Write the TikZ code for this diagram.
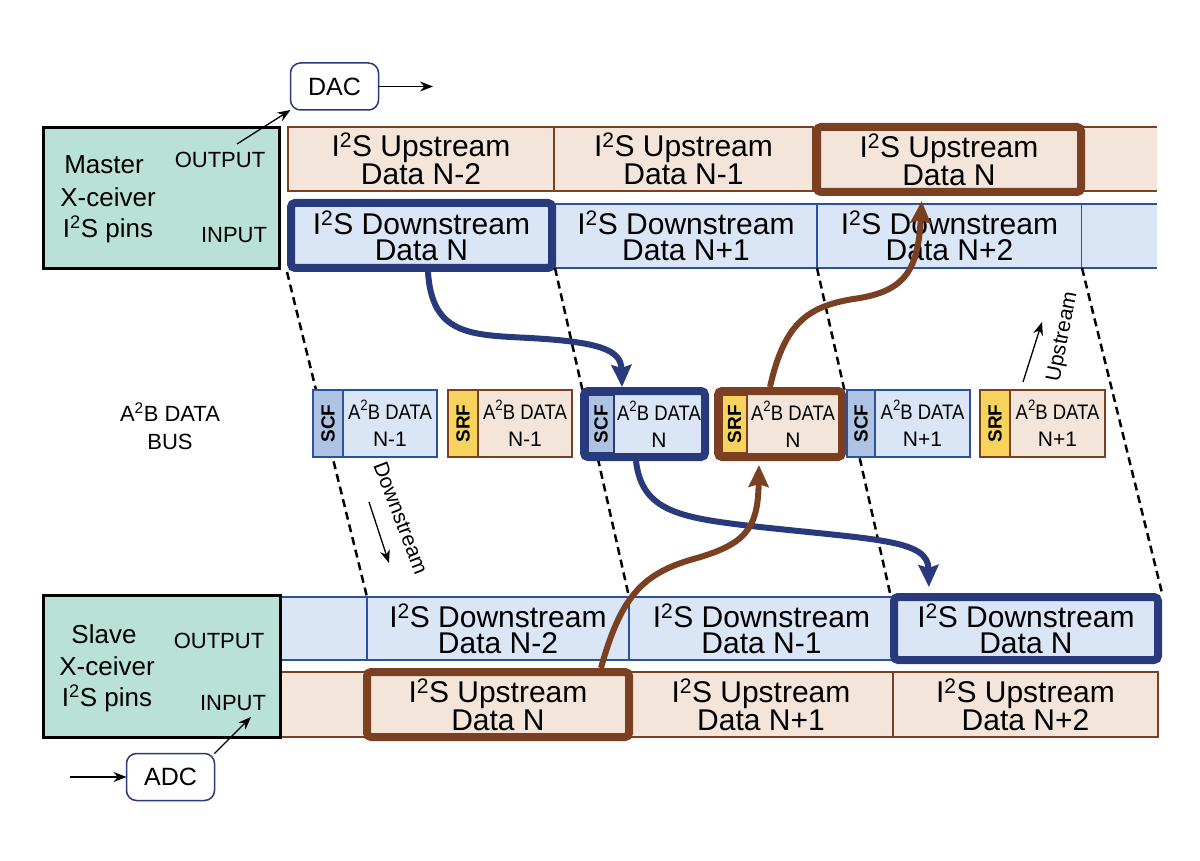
\documentclass[tikz,border=0pt]{standalone}
\usepackage{fontspec}
\setmainfont{Liberation Sans}
\usetikzlibrary{arrows.meta}
\definecolor{mastfill}{HTML}{B9E1D7}
\definecolor{upfill}{HTML}{F3E5D9}
\definecolor{brn}{HTML}{7B3F22}
\definecolor{dnfill}{HTML}{DAE5F5}
\definecolor{dnline}{HTML}{2A4FA3}
\definecolor{navy}{HTML}{283A7B}
\definecolor{scffill}{HTML}{AEC2E2}
\definecolor{srffill}{HTML}{F5D35C}
\newcommand\twosup{\textsuperscript{2}}
\newcommand\bustwo{\raisebox{0.42em}{\fontsize{15}{15}\selectfont 2}}
\newcommand\busline[1]{\scalebox{0.88}[1]{#1}}
\newcommand\cellfont{\fontsize{30}{26}\selectfont}
\newcommand\busfont{\fontsize{21}{27}\selectfont}
\newcommand\tabfont{\fontsize{19}{19}\selectfont\bfseries}
\newcommand\pinfont{\fontsize{22}{22}\selectfont}
\newcommand\namefont{\fontsize{26}{26}\selectfont}
\newcommand\dacfont{\fontsize{25}{25}\selectfont}
\newcommand\dirfont{\fontsize{21}{21}\selectfont}
\newcommand\lblfont{\fontsize{22}{28}\selectfont}
\begin{document}
\begin{tikzpicture}[x=1pt,y=-1pt,
  cell/.style={inner sep=0pt, outer sep=0pt, align=center, font=\cellfont, anchor=north west},
  upc/.style={cell, draw=brn, fill=upfill, line width=2pt},
  dnc/.style={cell, draw=dnline, fill=dnfill, line width=2pt},
  uphl/.style={cell, anchor=center, draw=brn, fill=upfill, line width=8pt, rounded corners=4pt, outer sep=4pt},
  dnhl/.style={cell, anchor=center, draw=navy, fill=dnfill, line width=8pt, rounded corners=4pt, outer sep=4pt},
  scftab/.style={inner sep=0pt, outer sep=0pt, anchor=north west, draw=dnline, fill=scffill, line width=2pt},
  srftab/.style={inner sep=0pt, outer sep=0pt, anchor=north west, draw=brn, fill=srffill, line width=2pt},
  scfdat/.style={inner sep=0pt, outer sep=0pt, anchor=north west, draw=dnline, fill=dnfill, line width=2pt, align=center, font=\busfont},
  srfdat/.style={inner sep=0pt, outer sep=0pt, anchor=north west, draw=brn, fill=upfill, line width=2pt, align=center, font=\busfont},
  bustxt/.style={inner sep=0pt, align=center, font=\busfont},
  tabtxt/.style={rotate=90, inner sep=0pt, font=\tabfont},
  bigarr/.style={line width=6pt, -{Stealth[length=22pt,width=20pt,inset=3pt]}},
  smallarr/.style={line width=1.3pt, black, -{Stealth[length=13pt,width=10pt]}},
  dsh/.style={black, line width=2.5pt, dash pattern=on 8pt off 5pt},
  chip/.style={draw=black, line width=3pt, fill=mastfill, inner sep=0pt, outer sep=0pt, anchor=north west},
  conv/.style={draw=navy, line width=1.5pt, rounded corners=10pt, fill=white, font=\dacfont, inner sep=0pt, outer sep=0pt, minimum width=88, minimum height=47}
]
\useasboundingbox (0,0) rectangle (1200,861);

% ---------- top upstream row ----------
\node[upc, minimum width=266, minimum height=64] (u1) at (288,127) {I\twosup S Upstream\\Data N-2};
\node[upc, minimum width=259, minimum height=64] (u2) at (554,127) {I\twosup S Upstream\\Data N-1};
\fill[upfill] (1081,127) rectangle (1157,191);
\draw[brn, line width=2pt] (1081,127) -- (1157,127) (1081,191) -- (1157,191);
\node[uphl, minimum width=264, minimum height=65] (u3) at (949,159.5) {I\twosup S Upstream\\Data N};

% ---------- top downstream row ----------
\node[dnc, minimum width=262, minimum height=64] (d2) at (555,204) {I\twosup S Downstream\\Data N+1};
\node[dnc, minimum width=265, minimum height=64] (d3) at (817,204) {I\twosup S Downstream\\Data N+2};
\fill[dnfill] (1082,204) rectangle (1157,268);
\draw[dnline, line width=2pt] (1082,204) -- (1157,204) (1082,268) -- (1157,268);
\node[dnhl, minimum width=261, minimum height=65] (d1) at (421.5,235.5) {I\twosup S Downstream\\Data N};

% ---------- bottom downstream row ----------
\node[dnc, minimum width=87, minimum height=63] (b1) at (280,597) {};
\node[dnc, minimum width=262, minimum height=63] (b2) at (367,597) {I\twosup S Downstream\\Data N-2};
\node[dnc, minimum width=265, minimum height=63] (b3) at (629,597) {I\twosup S Downstream\\Data N-1};
\node[dnhl, minimum width=264, minimum height=63] (bN) at (1026,628.5) {I\twosup S Downstream\\Data N};

% ---------- bottom upstream row ----------
\node[upc, minimum width=87, minimum height=65] (c1) at (280,672) {};
\node[upc, minimum width=264, minimum height=65] (c3) at (629,672) {I\twosup S Upstream\\Data N+1};
\node[upc, minimum width=265, minimum height=65] (c4) at (893,672) {I\twosup S Upstream\\Data N+2};
\node[uphl, minimum width=262, minimum height=65] (c2) at (498,704.5) {I\twosup S Upstream\\Data N};

% ---------- master / slave ----------
\node[chip, minimum width=236, minimum height=141] (master) at (43,128) {};
\node[font=\namefont, inner sep=0pt] (mt1) at (104,165) {Master};
\node[font=\namefont, inner sep=0pt] (mt2) at (108,197) {X-ceiver};
\node[font=\namefont, inner sep=0pt] (mt3) at (108,229) {I\twosup S pins};
\node[font=\pinfont, inner sep=0pt] (mout) at (220,160) {OUTPUT};
\node[font=\pinfont, inner sep=0pt] (min) at (234,235) {INPUT};

\node[chip, minimum width=237, minimum height=142] (slave) at (43,595) {};
\node[font=\namefont, inner sep=0pt] (st1) at (104,634) {Slave};
\node[font=\namefont, inner sep=0pt] (st2) at (107,666) {X-ceiver};
\node[font=\namefont, inner sep=0pt] (st3) at (107,698) {I\twosup S pins};
\node[font=\pinfont, inner sep=0pt] (sout) at (219,641) {OUTPUT};
\node[font=\pinfont, inner sep=0pt] (sin) at (233,703) {INPUT};

% ---------- DAC / ADC ----------
\node[conv] (dac) at (334.5,86.5) {DAC};
\coordinate (dacout) at (433,86.5);
\coordinate (mo) at (237,144);
\draw[smallarr] (dac.east) -- (dacout);
\draw[smallarr] (mo) -- (dac.south west);

\node[conv] (adc) at (170.5,777) {ADC};
\coordinate (adcin) at (70,777);
\coordinate (si) at (251,717);
\draw[smallarr] (adcin) -- (adc.west);
\draw[smallarr] (adc.north east) -- (si);

% ---------- dashed lines ----------
\coordinate (t4) at (1082,268);
\draw[dsh] (d1.south west) -- (b2.north west);
\draw[dsh] (d2.south west) -- (b3.north west);
\draw[dsh] (d3.south west) -- (bN.north west);
\draw[dsh] (t4) -- (bN.north east);

% ---------- bus frames ----------
\node[scftab, minimum width=30, minimum height=67] (s1t) at (313,390) {};
\node[scfdat, minimum width=94, minimum height=67] (s1d) at (343,390) {\busline{A\bustwo B DATA}\\N-1};
\node[tabtxt] (s1l) at (s1t.center) {SCF};

\node[srftab, minimum width=30, minimum height=67] (r1t) at (448,390) {};
\node[srfdat, minimum width=94, minimum height=67] (r1d) at (478,390) {\busline{A\bustwo B DATA}\\N-1};
\node[tabtxt] (r1l) at (r1t.center) {SRF};

\node[dnhl, minimum width=121, minimum height=66] (hlscf) at (644.5,424) {};
\node[scftab, line width=1.5pt, draw=navy, minimum width=26, minimum height=58] (s2t) at (588,395) {};
\node[tabtxt] (s2l) at (s2t.center) {SCF};
\node[bustxt] (s2d) at (659,424) {\busline{A\bustwo B DATA}\\N};

\node[uphl, minimum width=124, minimum height=66] (hlsrf) at (780,424) {};
\node[srftab, line width=1.5pt, minimum width=25, minimum height=58] (r2t) at (722,395) {};
\node[tabtxt] (r2l) at (r2t.center) {SRF};
\node[bustxt] (r2d) at (793,424) {\busline{A\bustwo B DATA}\\N};

\node[scftab, minimum width=28, minimum height=67] (s3t) at (847,390) {};
\node[scfdat, minimum width=95, minimum height=67] (s3d) at (875,390) {\busline{A\bustwo B DATA}\\N+1};
\node[tabtxt] (s3l) at (s3t.center) {SCF};

\node[srftab, minimum width=30, minimum height=67] (r3t) at (980,390) {};
\node[srfdat, minimum width=95, minimum height=67] (r3d) at (1010,390) {\busline{A\bustwo B DATA}\\N+1};
\node[tabtxt] (r3l) at (r3t.center) {SRF};

\node[align=center, font=\lblfont, inner sep=0pt] (buslab) at (170,426) {A\twosup B DATA\\BUS};

% ---------- direction labels ----------
\node[rotate=-69, font=\dirfont, inner sep=0pt] (dnlab) at (401,518) {Downstream};
\coordinate (da1) at (369,502);
\coordinate (da2) at (389,563);
\draw[smallarr] (da1) -- (da2);
\node[rotate=79, font=\dirfont, inner sep=0pt] (uplab) at (1063,337) {Upstream};
\coordinate (ua1) at (1023,382);
\coordinate (ua2) at (1042,322);
\draw[smallarr] (ua1) -- (ua2);

% ---------- big data-flow arrows ----------
\draw[bigarr, navy] ([xshift=6.5pt]d1.south) .. controls (432,335) and (470,335) .. (530,338)
   .. controls (600,342) and (621,350) .. ([xshift=-22.5pt]hlscf.north);
\draw[bigarr, navy, shorten >=6pt] ([xshift=-8.5pt]hlscf.south) .. controls (642,512) and (680,518) .. (760,527)
   .. controls (880,540) and (928,540) .. ([xshift=-97pt]bN.north);
\draw[bigarr, brn, shorten >=4pt] ([xshift=103pt]c2.north) .. controls (620,600) and (640,575) .. (690,560)
   .. controls (745,545) and (758,530) .. ([xshift=-21pt]hlsrf.south);
\draw[bigarr, brn, shorten >=5pt] ([xshift=-10pt]hlsrf.north) .. controls (785,320) and (810,305) .. (860,298)
   .. controls (905,290) and (918,270) .. ([xshift=-27pt]u3.south);
\end{tikzpicture}
\end{document}
